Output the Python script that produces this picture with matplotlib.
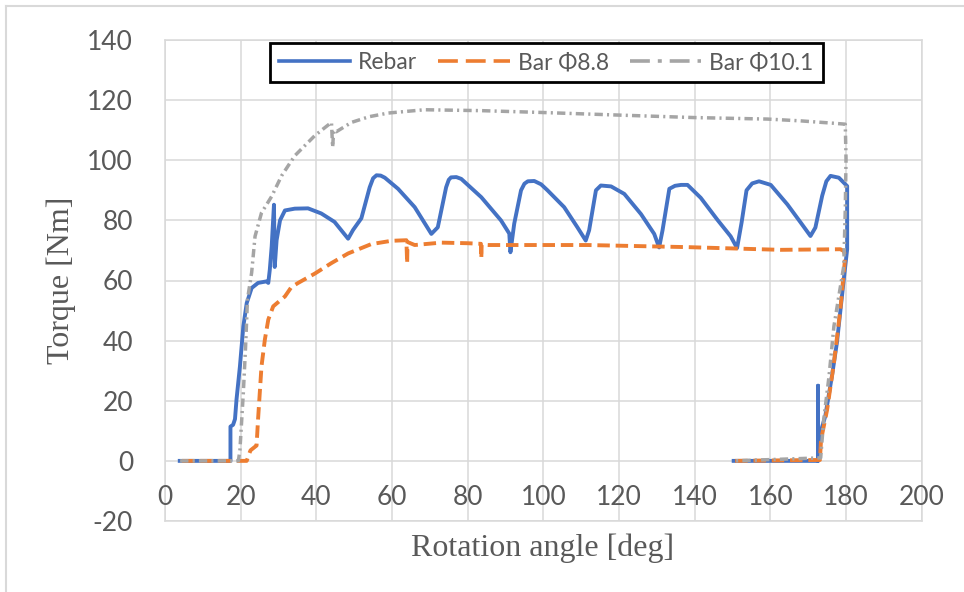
import matplotlib
matplotlib.use("Agg")
import matplotlib.pyplot as plt
from matplotlib.lines import Line2D

plt.rcParams['font.family'] = ['Lato', 'DejaVu Sans']
plt.rcParams['axes.unicode_minus'] = False

# values (rotation angle in deg, torque in Nm)
rebar_angle = [3.9, 17.3, 17.3, 18.0, 18.5, 18.9, 19.8, 20.7, 21.6, 22.9, 24.6, 26.8, 27.3,
               27.7, 28.2, 28.8, 29.0, 29.5, 30.4, 31.7, 34.3, 37.8, 41.3, 44.8, 48.4, 49.7,
               51.9, 54.1, 55.0, 55.9, 57.0, 58.1, 61.6, 66.0, 70.4, 72.1, 74.3, 75.0, 75.6,
               77.0, 78.3, 83.6, 88.8, 91.0, 91.3, 92.3, 94.1, 95.0, 95.9, 97.6, 99.4, 101.1,
               105.5, 109.0, 111.2, 112.1, 113.9, 115.2, 117.9, 121.4, 125.8, 129.3, 130.6,
               131.5, 133.3, 134.8, 136.4, 138.1, 141.6, 146.0, 149.5, 151.2, 152.4, 153.7,
               155.2, 157.0, 160.1, 164.5, 168.0, 170.6, 171.9, 173.7, 174.8, 175.9, 178.1,
               180.3, 180.3, 179.4, 177.6, 176.3, 174.5, 173.2, 172.9, 172.6, 172.6, 172.6,
               150.3]
rebar_torque = [0, 0, 11.4, 12.0, 13.9, 20.4, 31.4, 44.7, 52.5, 57.5, 59.2, 59.7, 59.2,
                63.6, 71.4, 85.2, 64.5, 73.4, 80.0, 83.3, 83.9, 84.0, 82.3, 79.5, 73.9, 76.8,
                80.7, 91.0, 94.0, 95.0, 94.9, 94.2, 90.5, 84.4, 75.5, 77.7, 91.0, 93.5, 94.3,
                94.4, 93.8, 87.7, 80.0, 75.6, 69.4, 78.9, 90.0, 92.2, 93.0, 93.1, 92.0, 90.0,
                84.4, 77.7, 73.3, 76.7, 90.0, 91.6, 91.3, 88.8, 82.1, 75.5, 71.0,
                76.7, 90.5, 91.5, 91.8, 91.8, 87.5, 80.2, 74.7, 70.8, 79.3, 90.0,
                92.3, 93.0, 91.8, 85.3, 79.3, 74.8, 77.6, 88.2, 93.0, 94.8, 94.2,
                91.4, 70.4, 60.3, 39.4, 28.4, 14.8, 9.3, 2.0, 0, 25.0, 0,
                0]

bar88_angle = [4.5, 21.6, 22.0, 22.6, 24.2, 24.6, 25.5, 26.4, 27.3, 28.6, 31.7, 33.4, 35.2,
               39.6, 44.0, 48.4, 54.5, 59.8, 63.8, 64.0, 64.1, 66.0, 73.0, 80.0, 83.5, 83.6,
               83.7, 85.3, 99.4, 111.7, 138.1, 162.7, 178.5, 179.4, 179.8, 178.5, 176.8,
               175.0, 173.4, 173.1, 150.3]
bar88_torque = [0, 0, 1.5, 3.5, 5.1, 13.9, 31.4, 40.4, 47.0, 51.4, 54.7, 57.8, 59.2,
                62.3, 65.8, 69.0, 72.1, 73.2, 73.4, 65.7, 72.8, 71.8, 72.6, 72.4, 72.2, 67.4,
                71.9, 71.8, 71.8, 71.8, 71.1, 70.2, 70.4, 69.8, 68.1, 50.4, 32.6,
                17.0, 7.0, 0.3, 0]

bar101_angle = [4.0, 19.4, 19.8, 20.7, 21.3, 21.8, 22.9, 23.8, 25.5, 28.2, 30.8, 34.3, 39.6,
                44.0, 44.3, 44.6, 45.3, 49.3, 54.0, 59.0, 68.6, 83.6, 99.4, 120.5, 139.8,
                159.2, 168.0, 176.8, 179.8, 180.0, 179.8, 179.4, 178.1, 176.8, 175.5, 174.1,
                173.3, 150.3]
bar101_torque = [0, 0, 3.6, 22.6, 38.0, 53.7, 62.6, 74.7, 82.5, 88.0, 94.8, 101.5, 108.2,
                 112.6, 104.3, 110.0, 109.5, 112.6, 114.5, 115.7, 116.8, 116.5, 115.9, 115.0,
                 114.2, 113.7, 113.1, 112.3, 112.0, 100.4, 83.7, 64.8, 54.8, 44.8, 28.1,
                 13.7, 1.0, 0]

series_labels = ['Rebar', 'Bar Φ8.8', 'Bar Φ10.1']
x_ticks = list(range(0, 201, 20))
y_ticks = list(range(-20, 141, 20))

blue = '#4472C4'
orange = '#ED7D31'
gray = '#A5A5A5'
text_gray = '#595959'
grid_gray = '#D9D9D9'

fig = plt.figure(figsize=(9.64, 5.92), dpi=100)
ax = fig.add_axes([165 / 964, 1 - 521 / 592, 756.7 / 964, 481 / 592])

ax.plot(rebar_angle, rebar_torque, color=blue, lw=2.8, solid_joinstyle='round')
ax.plot(bar88_angle, bar88_torque, color=orange, lw=2.8, dashes=(3.2, 1.5))
ax.plot(bar101_angle, bar101_torque, color=gray, lw=2.5, dashes=(2.4, 1.2, 0.6, 1.2))

ax.set_xlim(0, 200)
ax.set_ylim(-20, 140)
ax.set_xticks(x_ticks)
ax.set_yticks(y_ticks)
ax.set_xticklabels([])
ax.tick_params(axis='x', length=0)
ax.tick_params(axis='y', length=0, pad=23, labelsize=19, labelcolor=text_gray)
ax.grid(True, color=grid_gray, lw=1.1)
ax.set_axisbelow(True)
for sp in ax.spines.values():
    sp.set_color(grid_gray)
    sp.set_linewidth(1.1)

# x labels sit under the zero line, inside the plot area (Excel style)
for xv in x_ticks:
    ax.text(xv, -12.2, str(xv), ha='center', va='center', fontsize=19, color=text_gray)

fig.text(543 / 964, 1 - 548 / 592, 'Rotation angle [deg]', family='Liberation Serif',
         fontsize=23, color=text_gray, ha='center', va='center')
fig.text(61 / 964, 1 - 280.5 / 592, 'Torque [Nm]', family='Liberation Serif',
         fontsize=23, color=text_gray, ha='center', va='center', rotation=90)

handles = [Line2D([], [], color=blue, lw=2.6),
           Line2D([], [], color=orange, lw=2.6, dashes=(5.5, 2.2)),
           Line2D([], [], color=gray, lw=2.6, dashes=(5.5, 2.2, 1.1, 2.2))]
leg = fig.legend(handles, series_labels, loc='center', ncol=3, mode='expand',
                 bbox_to_anchor=(258.3 / 964, 1 - 84.3 / 592, 575.7 / 964, 43.3 / 592),
                 fontsize=16.5, handlelength=3.1, handletextpad=0.35, borderpad=0.4,
                 fancybox=False, framealpha=1, labelcolor=text_gray)
leg.get_frame().set_edgecolor('black')
leg.get_frame().set_linewidth(2)

# chart area border (only left and top edges show in the crop)
fig.add_artist(Line2D([6 / 964, 6 / 964], [0, 1 - 6 / 592], color=grid_gray, lw=1.5))
fig.add_artist(Line2D([6 / 964, 1], [1 - 6 / 592, 1 - 6 / 592], color=grid_gray, lw=1.5))

fig.savefig('out.png', dpi=100)
